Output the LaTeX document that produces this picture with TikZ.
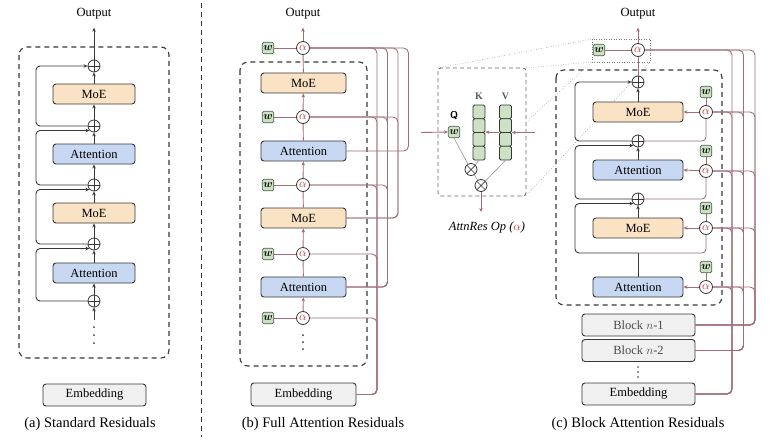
\documentclass[tikz,border=0pt]{standalone}
\usepackage{fontspec}
\setmainfont{Liberation Serif}
\usepackage{bm}
\usetikzlibrary{arrows.meta,calc}
\definecolor{bdr}{RGB}{55,55,55}
\definecolor{mv}{RGB}{160,110,118}
\definecolor{moef}{RGB}{250,226,196}
\definecolor{attf}{RGB}{200,216,242}
\definecolor{embf}{RGB}{240,240,240}
\definecolor{wf}{RGB}{205,226,196}
\definecolor{wd}{RGB}{70,95,70}
\definecolor{alr}{RGB}{190,45,45}
\definecolor{dotc}{RGB}{120,120,120}
\definecolor{opl}{RGB}{165,145,145}
\tikzset{
 lay/.style={draw=bdr, line width=0.9pt, rounded corners=3pt, minimum height=20pt, inner sep=0pt, font=\fontsize{12.5}{14}\selectfont},
 moebox/.style={lay, fill=moef},
 attbox/.style={lay, fill=attf},
 embbox/.style={lay, fill=embf, minimum height=22pt},
 blkbox/.style={embbox, text=black!70},
 pluss/.style={circle, draw=bdr, fill=white, minimum size=12pt, inner sep=0pt, line width=0.8pt,
   path picture={\draw[bdr, line width=0.7pt] (path picture bounding box.north) -- (path picture bounding box.south) (path picture bounding box.west) -- (path picture bounding box.east);}},
 timess/.style={circle, draw=bdr, fill=white, minimum size=12pt, inner sep=0pt, line width=0.8pt,
   path picture={\draw[bdr, line width=0.7pt] (path picture bounding box.north west) -- (path picture bounding box.south east) (path picture bounding box.north east) -- (path picture bounding box.south west);}},
 alph/.style={circle, draw=bdr, fill=white, minimum size=13pt, inner sep=0pt, line width=0.8pt, text=alr, font=\fontsize{13}{13}\selectfont},
 wbox/.style={draw=wd, fill=wf, rounded corners=1.5pt, minimum size=11.5pt, inner sep=0pt, line width=0.7pt, font=\fontsize{11}{11}\selectfont},
 cell/.style={draw=bdr, fill=wf, minimum width=12pt, minimum height=13.75pt, inner sep=0pt, rounded corners=1.5pt, line width=0.8pt},
 darr/.style={draw=bdr, line width=0.9pt, -{Stealth[length=4pt,width=3.5pt]}},
 dln/.style={draw=bdr, line width=0.9pt},
 marr/.style={draw=mv, line width=0.9pt, -{Stealth[length=4pt,width=3.5pt]}},
 mln/.style={draw=mv, line width=0.9pt},
 oln/.style={draw=opl, line width=0.6pt},
 dashbox/.style={draw=bdr, line width=1.1pt, dash pattern=on 5pt off 4pt, rounded corners=8pt},
 zoombox/.style={draw=black!60, line width=0.8pt, dash pattern=on 4pt off 3pt, rounded corners=3pt},
 zoomln/.style={draw=dotc, line width=0.5pt, dotted},
 lbl/.style={font=\fontsize{12.5}{14}\selectfont, inner sep=1pt},
 capt/.style={font=\fontsize{14.5}{17}\selectfont, inner sep=1pt},
 dotsn/.style={minimum height=18pt, minimum width=4pt, inner sep=0pt},
}
\begin{document}
\begin{tikzpicture}[x=1pt,y=-1pt]
\useasboundingbox (0,0) rectangle (780,440);
% divider
\draw[draw=bdr, line width=0.9pt, dash pattern=on 5pt off 4pt] (201,3) -- (201,437);

% ================= (a) =================
\draw[dashbox] (19,47) rectangle (169,358);
\node[lbl] (oa) at (94,14) {Output};
\node[moebox, minimum width=82pt] (a1) at (94,94) {MoE};
\node[attbox, minimum width=82pt] (a2) at (94,154) {Attention};
\node[moebox, minimum width=82pt] (a3) at (94,213) {MoE};
\node[attbox, minimum width=82pt] (a4) at (94,273) {Attention};
\node[pluss] (pa1) at (94,66) {};
\node[pluss] (pa2) at (94,126) {};
\node[pluss] (pa3) at (94,185) {};
\node[pluss] (pa4) at (94,244) {};
\node[pluss] (pa5) at (94,301) {};
\node[dotsn] (da) at (94,335) {};
\foreach \dy in {-8,0,8} \fill[bdr] ($(da.center)+(0,\dy)$) circle (1pt);
\node[embbox, minimum width=103pt] (ea) at (94.5,395) {Embedding};
\node[capt] (capa) at (90,424) {(a) Standard Residuals};
\coordinate (La) at (36,0);
\draw[darr] ([yshift=6pt]da.north) -- (pa5);
\draw[darr] (pa5) -- (a4);
\draw[darr] (a4) -- (pa4);
\draw[darr] (pa4) -- (a3);
\draw[darr] (a3) -- (pa3);
\draw[darr] (pa3) -- (a2);
\draw[darr] (a2) -- (pa2);
\draw[darr] (pa2) -- (a1);
\draw[darr] (a1) -- (pa1);
\draw[darr] (pa1) -- ([yshift=-7pt]oa.south);
\draw[darr, rounded corners=4pt] (pa2.west) -- (pa2.west -| La) |- (pa1.west);
\draw[darr, rounded corners=4pt] (pa3.west) -- (pa3.west -| La) |- (pa2.225);
\draw[darr, rounded corners=4pt] (pa4.west) -- (pa4.west -| La) |- (pa3.225);
\draw[darr, rounded corners=4pt] (pa5.west) -- (pa5.west -| La) |- (pa4.225);

% ================= (b) =================
\draw[dashbox] (240,62) rectangle (367,366);
\node[lbl] (ob) at (303,14) {Output};
\node[moebox, minimum width=85pt] (b1) at (303.5,83) {MoE};
\node[attbox, minimum width=85pt] (b2) at (303.5,151) {Attention};
\node[moebox, minimum width=85pt] (b3) at (303.5,218) {MoE};
\node[attbox, minimum width=85pt] (b4) at (303.5,287) {Attention};
\node[embbox, minimum width=105pt, minimum height=23pt] (eb) at (303.5,394.5) {Embedding};
\node[capt] (capb) at (323,424) {(b) Full Attention Residuals};
\foreach \i/\yy in {1/48,2/117,3/185,4/254,5/318}{
  \node[alph] (al\i) at (303,\yy) {$\alpha$};
  \node[wbox] (wb\i) at (268,\yy) {$\bm{w}$};
  \draw[mln] (wb\i) -- (al\i);
}
\node[dotsn] (db) at (303,342) {};
\foreach \dy in {-7,0,7} \fill[bdr] ($(db.center)+(0,\dy)$) circle (1pt);
\draw[marr] (al1) -- ([yshift=-7pt]ob.south);
\draw[mln] (b1) -- (al1);
\draw[marr] (al2) -- (b1);
\draw[mln] (b2) -- (al2);
\draw[marr] (al3) -- (b2);
\draw[mln] (b3) -- (al3);
\draw[marr] (al4) -- (b3);
\draw[mln] (b4) -- (al4);
\draw[marr] (al5) -- (b4);
\coordinate (V1) at (377,0);
\coordinate (V2) at (387.5,0);
\coordinate (V3) at (398,0);
\coordinate (V4) at (408.5,0);
\foreach \t in {al1,al2,al3,al4,al5}
  \draw[mln, rounded corners=5pt] (eb.east) -| (V1 |- \t) -- (\t.east);
\foreach \t in {al1,al2,al3}
  \draw[mln, rounded corners=5pt] (b4.east) -| (V2 |- \t) -- (\t.east);
\foreach \t in {al1,al2}
  \draw[mln, rounded corners=5pt] (b3.east) -| (V3 |- \t) -- (\t.east);
\draw[mln, rounded corners=5pt] (b2.east) -| (V4 |- al1) -- (al1.east);

% ================= middle: AttnRes Op =================
\draw[zoombox] (438,68) rectangle (526,196);
\coordinate (zTL) at (438,68);
\coordinate (zTR) at (526,68);
\coordinate (zR) at (526,122);
\coordinate (zBR) at (526,196);
\node[font=\sffamily\bfseries\fontsize{10}{10}\selectfont] (ql) at (454,115) {Q};
\node[wbox] (wq) at (454,132) {$\bm{w}$};
\node[font=\bfseries\fontsize{10}{10}\selectfont, text=black!65] (kl) at (479,96) {K};
\node[font=\bfseries\fontsize{10}{10}\selectfont, text=black!65] (vl) at (505.5,96) {V};
\foreach \i/\yy in {1/111.9,2/125.6,3/139.4,4/153.1}{
  \node[cell] (k\i) at (479,\yy) {};
  \node[cell] (v\i) at (505.5,\yy) {};
}
\node[timess] (x1) at (471,169.5) {};
\node[timess] (x2) at (481,185.5) {};
\coordinate (qin) at (421,132.5);
\coordinate (vin) at (535,132.5);
\coordinate (opout) at (481,212);
\draw[marr] (qin) -- (wq.west);
\draw[marr] (vin) -- (vin -| v3.east);
\draw[marr] (v3.north west) -- (v3.north west -| k3.east);
\draw[oln] (wq.south) -- (x1);
\draw[oln] (k4.south) -- (x1);
\draw[oln] (x1) -- (x2);
\draw[oln] (v4.south) -- (x2);
\draw[marr] (x2) -- (opout);
\node[font=\fontsize{12.5}{14}\selectfont\itshape] (oplab) at (487,227) {AttnRes Op (\textcolor{alr}{$\alpha$})};

% ================= (c) =================
\draw[dashbox] (556,70) rectangle (722,305);
\node[lbl] (oc) at (638,14) {Output};
\node[alph] (ac0) at (638,50) {$\alpha$};
\node[wbox] (wc0) at (599,50) {$\bm{w}$};
\draw[zoomln] (592,39) rectangle (650,62);
\coordinate (sTL) at (592,39);
\coordinate (sBL) at (592,62);
\coordinate (sBR) at (650,62);
\draw[zoomln] (zTL) -- (sTL);
\draw[zoomln] (zTR) -- (sBL);
\draw[zoomln] (zR) -- (sBL);
\draw[zoomln] (zBR) -- (sBR);
\node[pluss] (pc1) at (638,82) {};
\node[moebox, minimum width=90pt] (c1) at (638,112) {MoE};
\node[pluss] (pc2) at (638,141) {};
\node[attbox, minimum width=90pt] (c2) at (638,170) {Attention};
\node[pluss] (pc3) at (638,199) {};
\node[moebox, minimum width=90pt] (c3) at (638,228) {MoE};
\node[attbox, minimum width=90pt] (c4) at (638,287) {Attention};
\node[blkbox, minimum width=113pt] (bn1) at (638.5,325) {Block $n$-1};
\node[blkbox, minimum width=113pt] (bn2) at (638.5,350.5) {Block $n$-2};
\node[dotsn] (dc) at (638,372) {};
\foreach \dy in {-5,0,5} \fill[bdr] ($(dc.center)+(0,\dy)$) circle (0.9pt);
\node[embbox, minimum width=113pt] (ec) at (638.5,394) {Embedding};
\node[capt] (capc) at (638,424) {(c) Block Attention Residuals};
\foreach \i/\yy in {1/112,2/171,3/228,4/287}{
  \node[alph] (ac\i) at (706,\yy) {$\alpha$};
  \node[wbox] (wc\i) at (706,\yy-20) {$\bm{w}$};
  \draw[mln] (wc\i) -- (ac\i);
  \draw[marr] (ac\i) -- (c\i.east);
}
\draw[mln] (wc0) -- (ac0);
\draw[marr] (ac0) -- ([yshift=-7pt]oc.south);
\draw[mln] (pc1) -- (ac0);
\draw[darr] (c1) -- (pc1);
\draw[darr] (c2) -- (pc2);
\draw[darr] (c3) -- (pc3);
\coordinate (Lc) at (575,0);
\coordinate (J3) at (638,253);
\draw[dln] (c4.north) -- (J3);
% partial block sums
\draw[mln, rounded corners=4pt] (pc2.east) -- (pc2.east -| ac1) -- (ac1.south);
\draw[darr, rounded corners=4pt] (pc2.west) -- (pc2.west -| Lc) |- (pc1.west);
\draw[mln, rounded corners=4pt] (pc3.east) -- (pc3.east -| ac2) -- (ac2.south);
\draw[darr, rounded corners=4pt] (pc3.west) -- (pc3.west -| Lc) |- (pc2.225);
\draw[mln, rounded corners=4pt] (J3) -- (J3 -| ac3) -- (ac3.south);
\draw[darr, rounded corners=4pt] (J3) -- (J3 -| Lc) |- (pc3.225);
% block representations
\coordinate (W1) at (732,0);
\coordinate (W2) at (743.5,0);
\coordinate (W3) at (755,0);
\foreach \t in {ac0,ac1,ac2,ac3,ac4}{
  \draw[mln, rounded corners=5pt] (ec.east) -| (W1 |- \t) -- (\t.east);
  \draw[mln, rounded corners=5pt] (bn2.east) -| (W2 |- \t) -- (\t.east);
  \draw[mln, rounded corners=5pt] (bn1.east) -| (W3 |- \t) -- (\t.east);
}
\end{tikzpicture}
\end{document}
